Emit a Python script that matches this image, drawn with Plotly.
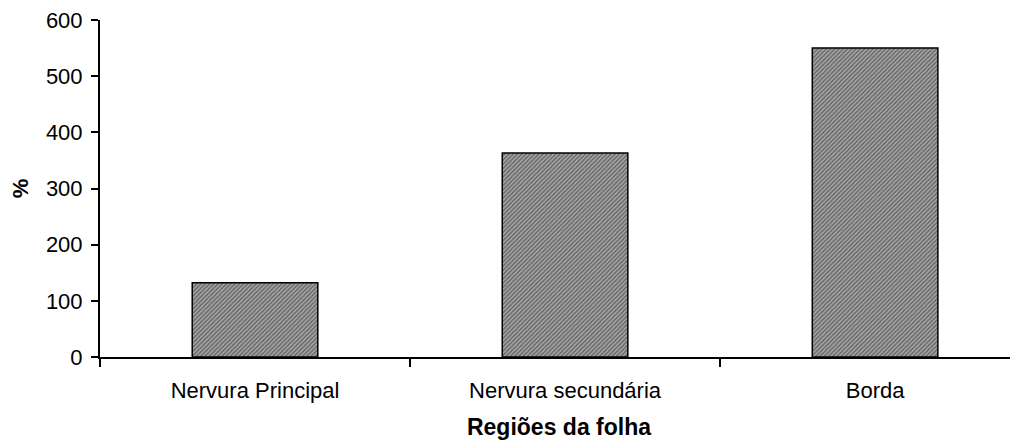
import plotly.graph_objects as go

categories = ["Nervura Principal", "Nervura secundária", "Borda"]
values = [132, 363, 550]
y_ticks = [0, 100, 200, 300, 400, 500, 600]

FONT = "Liberation Sans, Arial, sans-serif"

fig = go.Figure(
    go.Bar(
        x=categories,
        y=values,
        width=0.405,
        marker=dict(
            color="#a8a8a8",
            line=dict(color="black", width=1.5),
            pattern=dict(shape="/", size=3, solidity=0.5,
                         fgcolor="#222222", bgcolor="#aaaaaa"),
        ),
    )
)

fig.update_layout(
    width=1010,
    height=435,
    margin=dict(l=92, r=0, t=12, b=86),
    paper_bgcolor="white",
    plot_bgcolor="white",
    showlegend=False,
    font=dict(family=FONT, size=22, color="black"),
)

fig.update_xaxes(
    type="category",
    range=[-0.5, 2.461],
    showline=True,
    linecolor="black",
    linewidth=2,
    ticks="outside",
    tickson="boundaries",
    ticklen=8,
    tickwidth=1.5,
    tickcolor="black",
    showgrid=False,
    tickfont=dict(family=FONT, size=22),
    ticklabelstandoff=13,
    title=dict(text="<b>Regiões da folha</b>", font=dict(family=FONT, size=23), standoff=16),
)

fig.update_yaxes(
    range=[0, 600],
    tickvals=y_ticks,
    showline=True,
    linecolor="black",
    linewidth=2,
    ticks="outside",
    ticklen=7,
    tickwidth=1.5,
    tickcolor="black",
    showgrid=False,
    zeroline=False,
    ticklabelstandoff=4,
    ticklabeloverflow="allow",
    tickfont=dict(family=FONT, size=22),
    title=dict(text="<b>%</b>", font=dict(family=FONT, size=22), standoff=16),
)

fig.write_html("out.html")
